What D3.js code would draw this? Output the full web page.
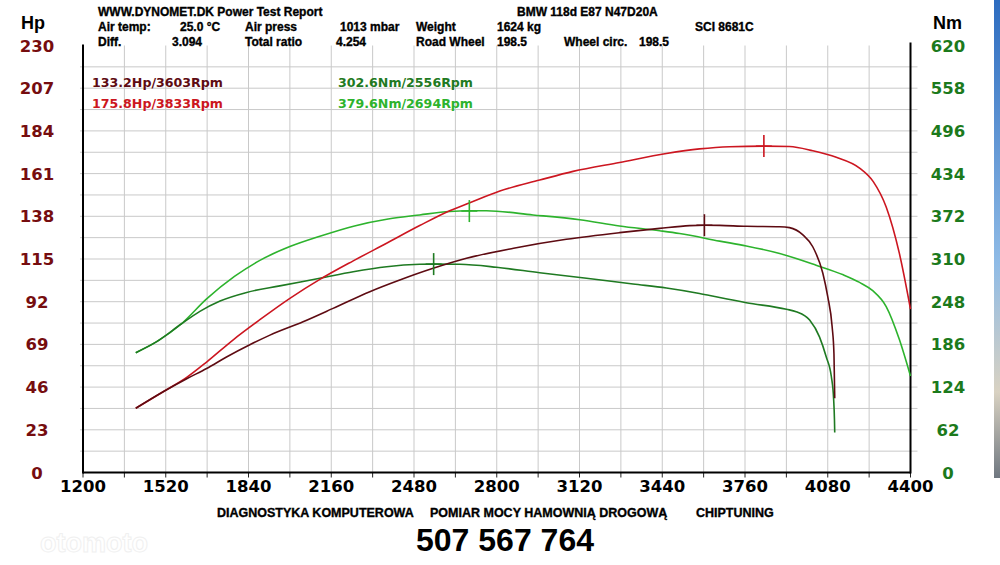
<!DOCTYPE html>
<html>
<head>
<meta charset="utf-8">
<script src="https://cdn.jsdelivr.net/npm/d3@7"></script>
<style>
  body { margin: 0; background: #fff; }
  svg { display: block; }
  .hdr { font-family: "Liberation Sans", Arial, sans-serif; font-weight: bold; font-size: 12px; fill: #000; stroke: #000; stroke-width: 0.35px; }
  .tick { font-family: "DejaVu Sans", Verdana, sans-serif; font-weight: bold; font-size: 16.5px; }
  .leg { font-family: "DejaVu Sans", Verdana, sans-serif; font-weight: bold; font-size: 12.6px; }
</style>
</head>
<body>
<div id="graf"></div>
<script>
// Datos
const rpmTicks = [1200, 1520, 1840, 2160, 2480, 2800, 3120, 3440, 3760, 4080, 4400]
const hpTicks = [0, 23, 46, 69, 92, 115, 138, 161, 184, 207, 230]
const nmTicks = [0, 62, 124, 186, 248, 310, 372, 434, 496, 558, 620]

// potencia original (Hp)
const rpmPowerStock = [1404, 1510, 1601, 1678, 1755, 1845, 1923, 2051, 2167, 2309, 2425, 2554, 2683, 2865, 3069, 3275, 3430, 3546, 3603, 3662, 3765, 3894, 3932, 3984, 4022, 4061, 4080, 4097, 4104, 4106, 4107]
const hpStock = [34.6, 43.5, 50.5, 56, 62.2, 68.8, 74, 81.2, 88.4, 97.4, 103.7, 110, 115.4, 120.8, 125.6, 129.2, 131.5, 133, 133.2, 133.1, 132.6, 132.4, 131.9, 128, 121.6, 107.3, 94.7, 78.5, 64, 48, 40]

// potencia modificada (Hp)
const rpmPowerTuned = [1404, 1510, 1601, 1678, 1781, 1884, 2000, 2116, 2245, 2374, 2502, 2618, 2696, 2812, 2966, 3095, 3275, 3456, 3584, 3700, 3833, 3932, 4022, 4113, 4203, 4256, 4306, 4357, 4400]
const hpTuned = [34.6, 43.5, 51.2, 59.5, 71.5, 82.3, 93.8, 104, 114, 123.5, 133, 141, 145.3, 151.6, 157.5, 162.2, 167, 171.8, 174.3, 175.5, 175.8, 175.6, 173.3, 169.8, 164, 156.7, 143, 118, 88]

// par original (Nm)
const rpmTorqueStock = [1404, 1485, 1581, 1652, 1730, 1833, 1961, 2116, 2245, 2374, 2502, 2556, 2657, 2799, 2966, 3147, 3327, 3456, 3584, 3662, 3765, 3920, 3958, 4010, 4048, 4074, 4094, 4103, 4106, 4107]
const nmStock = [174, 190, 216, 234, 249, 261.5, 271, 282, 291.5, 298.8, 302.3, 302.6, 302.3, 298, 290, 282, 273.7, 268, 260, 254, 246.6, 237, 233.5, 221.4, 197, 168, 139, 105, 76, 58]

// par modificado (Nm)
const rpmTorqueTuned = [1404, 1485, 1581, 1678, 1787, 1884, 2000, 2116, 2250, 2380, 2502, 2618, 2694, 2760, 2940, 3121, 3275, 3430, 3507, 3662, 3765, 3894, 4035, 4140, 4203, 4254, 4306, 4357, 4400]
const nmTuned = [174, 190, 216, 252, 285, 308, 328, 343, 358, 368, 374, 379, 380, 380, 374, 367, 358, 351, 347, 336, 329, 318, 301, 287, 276, 264, 241, 193, 140]

// picos
const peakLabels = ['133.2Hp/3603Rpm', '175.8Hp/3833Rpm', '302.6Nm/2556Rpm', '379.6Nm/2694Rpm']
const peakRpm = [3603, 3833, 2556, 2694]
const peakValue = [133.2, 175.8, 302.6, 379.6]

const ancho = 1000
const alto = 565
const plotLeft = 83, plotRight = 910.5, plotTop = 45.5, plotBottom = 472.5

const colStockHp = '#5e0b12'
const colTunedHp = '#cc1620'
const colStockNm = '#1f7a22'
const colTunedNm = '#2db32d'

const svg = d3.select('#graf').append('svg')
    .attr('width', ancho)
    .attr('height', alto)

const defs = svg.append('defs')
const grad = defs.append('linearGradient').attr('id', 'strip').attr('x1', 0).attr('y1', 0).attr('x2', 0).attr('y2', 1)
grad.append('stop').attr('offset', '0%').attr('stop-color', '#2d6cc0')
grad.append('stop').attr('offset', '55%').attr('stop-color', '#8fbbe6')
grad.append('stop').attr('offset', '82%').attr('stop-color', '#d9d2c2')
grad.append('stop').attr('offset', '100%').attr('stop-color', '#6f7780')
svg.append('rect').attr('x', 994).attr('y', 0).attr('width', 6).attr('height', 478).attr('fill', 'url(#strip)')

// escalas
const x = d3.scaleLinear().domain([1200, 4400]).range([plotLeft, plotRight])
const yHp = d3.scaleLinear().domain([0, 230]).range([plotBottom, plotTop])
const yNm = d3.scaleLinear().domain([0, 620]).range([plotBottom, plotTop])

// rejilla
const gridHp = d3.range(1, 20).map(i => i * 11.5)
svg.append('g').selectAll('line').data(gridHp).join('line')
    .attr('x1', plotLeft - 3).attr('x2', plotRight + 7)
    .attr('y1', d => yHp(d)).attr('y2', d => yHp(d))
    .attr('stroke', '#c9c9c9').attr('stroke-width', 1)

const gridRpm = d3.range(1200, 4401, 160)
svg.append('g').selectAll('line').data(gridRpm.slice(1, -1)).join('line')
    .attr('x1', d => x(d)).attr('x2', d => x(d))
    .attr('y1', plotTop).attr('y2', plotBottom)
    .attr('stroke', '#c9c9c9').attr('stroke-width', 1)

// marcas del eje X
svg.append('g').selectAll('line').data(gridRpm).join('line')
    .attr('x1', d => x(d)).attr('x2', d => x(d))
    .attr('y1', plotBottom).attr('y2', plotBottom + 5)
    .attr('stroke', '#222').attr('stroke-width', 1)

// ejes
svg.append('line').attr('x1', plotLeft).attr('x2', plotLeft).attr('y1', plotTop - 1).attr('y2', plotBottom + 1).attr('stroke', '#000').attr('stroke-width', 2)
svg.append('line').attr('x1', plotRight).attr('x2', plotRight).attr('y1', plotTop - 3).attr('y2', plotBottom + 1).attr('stroke', '#000').attr('stroke-width', 2)
svg.append('line').attr('x1', plotLeft).attr('x2', plotRight).attr('y1', plotBottom).attr('y2', plotBottom).attr('stroke', '#000').attr('stroke-width', 2)

// etiquetas de ejes
svg.append('g').selectAll('text').data(hpTicks).join('text')
    .attr('class', 'tick')
    .attr('x', 37).attr('y', d => yHp(d) + 6)
    .attr('text-anchor', 'middle').attr('fill', '#760d0f')
    .text(d => d)

svg.append('g').selectAll('text').data(nmTicks).join('text')
    .attr('class', 'tick')
    .attr('x', 948).attr('y', d => yNm(d) + 6)
    .attr('text-anchor', 'middle').attr('fill', '#1c7a1c')
    .text(d => d)

svg.append('g').selectAll('text').data(rpmTicks).join('text')
    .attr('class', 'tick')
    .attr('x', d => x(d)).attr('y', 492)
    .attr('text-anchor', 'middle').attr('fill', '#000')
    .text(d => d)

// curvas
const lineHp = d3.line().x(d => x(d[0])).y(d => yHp(d[1])).curve(d3.curveMonotoneX)
const lineNm = d3.line().x(d => x(d[0])).y(d => yNm(d[1])).curve(d3.curveMonotoneX)

const series = [
    { pts: d3.zip(rpmTorqueTuned, nmTuned), gen: lineNm, color: colTunedNm },
    { pts: d3.zip(rpmTorqueStock, nmStock), gen: lineNm, color: colStockNm },
    { pts: d3.zip(rpmPowerTuned, hpTuned), gen: lineHp, color: colTunedHp },
    { pts: d3.zip(rpmPowerStock, hpStock), gen: lineHp, color: colStockHp }
]
series.forEach(s => {
    svg.append('path')
        .attr('d', s.gen(s.pts))
        .attr('fill', 'none')
        .attr('stroke', s.color)
        .attr('stroke-width', 1.6)
        .attr('stroke-linejoin', 'round')
})

// marcas de picos
const peakCols = [colStockHp, colTunedHp, colStockNm, colTunedNm]
const peakY = [yHp(peakValue[0]), yHp(peakValue[1]), yNm(peakValue[2]), yNm(peakValue[3])]
peakRpm.forEach((r, i) => {
    svg.append('line')
        .attr('x1', x(r)).attr('x2', x(r))
        .attr('y1', peakY[i] - 11).attr('y2', peakY[i] + 11)
        .attr('stroke', peakCols[i]).attr('stroke-width', 1.6)
    svg.append('line')
        .attr('x1', x(r) - 8).attr('x2', x(r) + 8)
        .attr('y1', peakY[i]).attr('y2', peakY[i])
        .attr('stroke', peakCols[i]).attr('stroke-width', 1.4)
})

// leyenda
const legX = [92, 92, 338, 338]
const legY = [87, 108, 87, 108]
peakLabels.forEach((t, i) => {
    svg.append('text').attr('class', 'leg')
        .attr('x', legX[i]).attr('y', legY[i])
        .attr('fill', peakCols[i])
        .text(t)
})

// cabecera
const hdr = [
    ['WWW.DYNOMET.DK Power Test Report', 98, 16],
    ['BMW 118d E87 N47D20A', 517, 16],
    ['Air temp:', 98, 31], ['25.0 °C', 180, 31], ['Air press', 245, 31], ['1013 mbar', 340, 31],
    ['Weight', 416, 31], ['1624 kg', 497, 31], ['SCI 8681C', 695, 31],
    ['Diff.', 98, 46], ['3.094', 172, 46], ['Total ratio', 245, 46], ['4.254', 336, 46],
    ['Road Wheel', 416, 46], ['198.5', 497, 46], ['Wheel circ.', 564, 46], ['198.5', 639, 46]
]
hdr.forEach(h => {
    svg.append('text').attr('class', 'hdr').attr('x', h[1]).attr('y', h[2]).text(h[0])
})

svg.append('text').attr('x', 21).attr('y', 29)
    .style('font-family', '"Liberation Sans", Arial, sans-serif').style('font-weight', 'bold').style('font-size', '18px')
    .text('Hp')
svg.append('text').attr('x', 933).attr('y', 29)
    .style('font-family', '"Liberation Sans", Arial, sans-serif').style('font-weight', 'bold').style('font-size', '18px')
    .text('Nm')

// pie
const foot = [['DIAGNOSTYKA KOMPUTEROWA', 217], ['POMIAR MOCY HAMOWNIĄ DROGOWĄ', 430], ['CHIPTUNING', 696]]
foot.forEach(f => {
    svg.append('text').attr('x', f[1]).attr('y', 517)
        .style('font-family', '"Liberation Sans", Arial, sans-serif').style('font-weight', 'bold').style('font-size', '12.5px')
        .attr('stroke', '#000').attr('stroke-width', 0.35)
        .text(f[0])
})

svg.append('text').attr('x', 505).attr('y', 551).attr('text-anchor', 'middle')
    .style('font-family', '"Liberation Sans", Arial, sans-serif').style('font-weight', 'bold').style('font-size', '32px')
    .text('507 567 764')

svg.append('text').attr('x', 40).attr('y', 552)
    .style('font-family', '"Liberation Sans", Arial, sans-serif').style('font-weight', 'bold').style('font-size', '27px')
    .attr('fill', 'none').attr('stroke', '#f0f0f0').attr('stroke-width', 1)
    .text('otomoto')
</script>
</body>
</html>
